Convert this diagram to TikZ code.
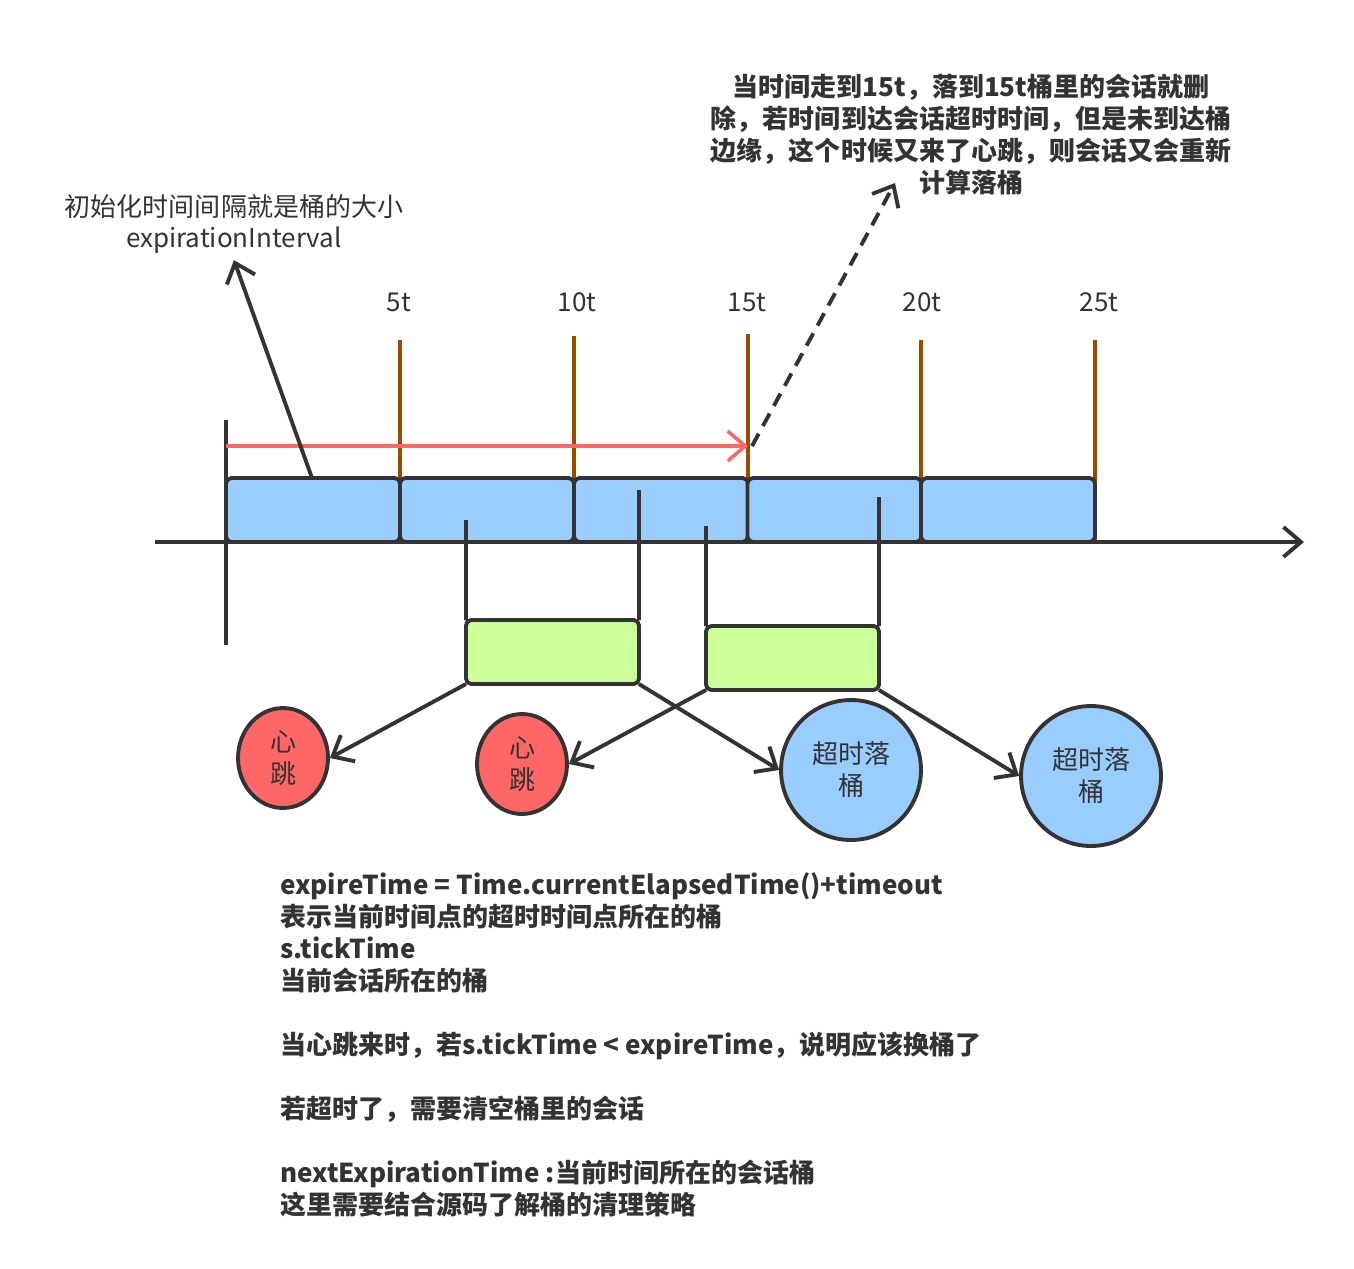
\documentclass[tikz,border=0pt]{standalone}
\usepackage{fontspec}
\setmainfont{Noto Sans CJK SC}
\usetikzlibrary{arrows.meta,shapes.geometric}
\definecolor{ink}{HTML}{333333}
\definecolor{bucketblue}{HTML}{99CCFF}
\definecolor{tickbrown}{HTML}{994C00}
\definecolor{tipred}{HTML}{FF6666}
\definecolor{boxgreen}{HTML}{CCFF99}
\newcommand{\txt}{\fontsize{14.8pt}{18.2pt}\selectfont}
\tikzset{
	bucket/.style={draw=ink, fill=bucketblue, line width=2.2pt, rounded corners=3pt, minimum width=3.48cm, minimum height=1.28cm, inner sep=0pt, outer sep=0pt},
	session/.style={draw=ink, fill=boxgreen, line width=2.2pt, rounded corners=3pt, minimum width=3.46cm, minimum height=1.28cm, inner sep=0pt, outer sep=0pt},
	beat/.style={ellipse, draw=ink, fill=tipred, line width=2.2pt, minimum width=1.8cm, minimum height=2cm, inner sep=0pt, align=center, font=\txt, text=ink},
	expired/.style={ellipse, draw=ink, fill=bucketblue, line width=2.2pt, minimum width=2.8cm, minimum height=2.8cm, inner sep=0pt, align=center, font=\txt, text=ink},
	barb/.style={-{Straight Barb[length=10pt,width=17pt]}},
	wire/.style={draw=ink, line width=2.2pt},
	tick/.style={draw=tickbrown, line width=1.8pt},
	ticklabel/.style={font=\txt, text=ink}
}

\begin{document}
\begin{tikzpicture}[x=0.02cm, y=-0.02cm]
	\useasboundingbox (0,0) rectangle (1354,1268);

	%TICKS
	\foreach \tx/\ty/\lx/\tl [count=\i] in {400/340/399/5t, 574/336/577/10t, 748/334/747/15t, 921/340/922/20t, 1095/340/1099/25t}{
		\coordinate (top\i) at (\tx,\ty);
		\coordinate (bot\i) at (\tx,542);
		\draw[tick] (top\i)--(bot\i);
		\node[ticklabel] (lab\i) at (\lx,302) {\tl};
	}

	%BUCKETS
	\node[bucket] (b1) at (313,510) {};
	\node[bucket] (b2) at (487,510) {};
	\node[bucket] (b3) at (661,510) {};
	\node[bucket] (b4) at (834.5,510) {};
	\node[bucket] (b5) at (1008,510) {};

	%AXIS
	\coordinate (ax0) at (155,542);
	\coordinate (ax1) at (1304,542);
	\draw[wire, barb] (ax0)--(ax1);		%time axis
	\coordinate (st0) at (226,420);
	\coordinate (st1) at (226,645);
	\draw[wire] (st0)--(st1);			%start

	%INTERVAL
	\coordinate (r0) at (226,446);
	\coordinate (r1) at (748,446);
	\draw[tipred, line width=2pt, barb] (r0)--(r1);

	%SESSIONS
	\node[session] (g1) at (552.5,652) {};
	\node[session] (g2) at (792.5,658) {};
	\coordinate (s1) at (466,520);
	\coordinate (s2) at (639,490);
	\coordinate (s3) at (706,526);
	\coordinate (s4) at (879,497);
	\draw[wire] (s1)--(g1.north west);
	\draw[wire] (s2)--(g1.north east);
	\draw[wire] (s3)--(g2.north west);
	\draw[wire] (s4)--(g2.north east);

	%RESULTS
	\node[beat] (hb1) at (283,758) {心\\跳};
	\node[beat] (hb2) at (522,764) {心\\跳};
	\node[expired] (ex1) at (851,770) {超时落\\桶};
	\node[expired] (ex2) at (1091,776) {超时落\\桶};
	\draw[wire, barb] (g1.south west)--(hb1.east);
	\draw[wire, barb] (g1.south east)--(ex1.west);
	\draw[wire, barb] (g2.south west)--(hb2.east);
	\draw[wire, barb] (g2.south east)--(ex2.west);

	%LABELS
	\node[font=\txt, text=ink, align=center] (init) at (234,224) {初始化时间间隔就是桶的大小\\expirationInterval};
	\coordinate (ip) at (312,478);
	\draw[wire, barb] (ip)--(init.south);
	%
	\node[font=\txt\bfseries, text=ink, align=center] (note) at (971,135) {当时间走到15t，落到15t桶里的会话就删\\除，若时间到达会话超时时间，但是未到达桶\\边缘，这个时候又来了心跳，则会话又会重新\\计算落桶};
	\coordinate (dp) at (752,446);
	\coordinate (dq) at (895,183);
	\draw[wire, dash pattern=on 8pt off 5pt, barb] (dp)--(dq);
	%
	\node[font=\txt\bfseries, text=ink, align=left, anchor=north west, inner sep=0pt] (memo) at (280,872) {expireTime = Time.currentElapsedTime()+timeout\\表示当前时间点的超时时间点所在的桶\\s.tickTime\\当前会话所在的桶\\[18.2pt]当心跳来时，若s.tickTime < expireTime，说明应该换桶了\\[18.2pt]若超时了，需要清空桶里的会话\\[18.2pt]nextExpirationTime :当前时间所在的会话桶\\这里需要结合源码了解桶的清理策略};
\end{tikzpicture}
\end{document}
